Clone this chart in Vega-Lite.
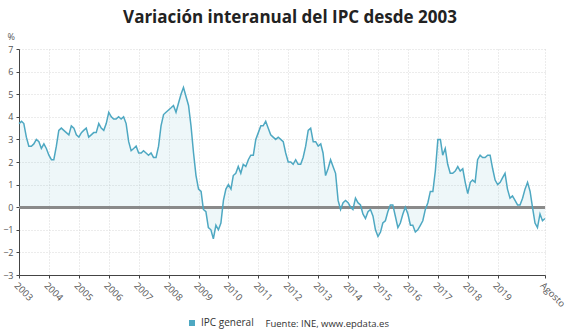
{
  "$schema": "https://vega.github.io/schema/vega-lite/v6.json",
  "width": 526,
  "height": 226,
  "autosize": {"type": "none"},
  "padding": {"left": 19, "top": 49, "right": 24, "bottom": 58},
  "background": "white",
  "config": {
    "font": "Open Sans",
    "view": {"stroke": null}
  },
  "title": {
    "text": "Variación interanual del IPC desde 2003",
    "fontSize": 17,
    "fontWeight": "bold",
    "color": "#222",
    "anchor": "middle",
    "offset": 5,
    "dx": 8
  },
  "data": {
    "values": [
      {"date": "2003-01-01", "v": 3.7}, {"date": "2003-02-01", "v": 3.8}, {"date": "2003-03-01", "v": 3.7}, {"date": "2003-04-01", "v": 3.1}, {"date": "2003-05-01", "v": 2.7}, {"date": "2003-06-01", "v": 2.7}, {"date": "2003-07-01", "v": 2.8}, {"date": "2003-08-01", "v": 3.0}, {"date": "2003-09-01", "v": 2.9}, {"date": "2003-10-01", "v": 2.6}, {"date": "2003-11-01", "v": 2.8}, {"date": "2003-12-01", "v": 2.6},
      {"date": "2004-01-01", "v": 2.3}, {"date": "2004-02-01", "v": 2.1}, {"date": "2004-03-01", "v": 2.1}, {"date": "2004-04-01", "v": 2.7}, {"date": "2004-05-01", "v": 3.4}, {"date": "2004-06-01", "v": 3.5}, {"date": "2004-07-01", "v": 3.4}, {"date": "2004-08-01", "v": 3.3}, {"date": "2004-09-01", "v": 3.2}, {"date": "2004-10-01", "v": 3.6}, {"date": "2004-11-01", "v": 3.5}, {"date": "2004-12-01", "v": 3.2},
      {"date": "2005-01-01", "v": 3.1}, {"date": "2005-02-01", "v": 3.3}, {"date": "2005-03-01", "v": 3.4}, {"date": "2005-04-01", "v": 3.5}, {"date": "2005-05-01", "v": 3.1}, {"date": "2005-06-01", "v": 3.2}, {"date": "2005-07-01", "v": 3.3}, {"date": "2005-08-01", "v": 3.3}, {"date": "2005-09-01", "v": 3.7}, {"date": "2005-10-01", "v": 3.5}, {"date": "2005-11-01", "v": 3.4}, {"date": "2005-12-01", "v": 3.7},
      {"date": "2006-01-01", "v": 4.2}, {"date": "2006-02-01", "v": 4.0}, {"date": "2006-03-01", "v": 3.9}, {"date": "2006-04-01", "v": 3.9}, {"date": "2006-05-01", "v": 4.0}, {"date": "2006-06-01", "v": 3.9}, {"date": "2006-07-01", "v": 4.0}, {"date": "2006-08-01", "v": 3.7}, {"date": "2006-09-01", "v": 2.9}, {"date": "2006-10-01", "v": 2.5}, {"date": "2006-11-01", "v": 2.6}, {"date": "2006-12-01", "v": 2.7},
      {"date": "2007-01-01", "v": 2.4}, {"date": "2007-02-01", "v": 2.4}, {"date": "2007-03-01", "v": 2.5}, {"date": "2007-04-01", "v": 2.4}, {"date": "2007-05-01", "v": 2.3}, {"date": "2007-06-01", "v": 2.4}, {"date": "2007-07-01", "v": 2.2}, {"date": "2007-08-01", "v": 2.2}, {"date": "2007-09-01", "v": 2.7}, {"date": "2007-10-01", "v": 3.6}, {"date": "2007-11-01", "v": 4.1}, {"date": "2007-12-01", "v": 4.2},
      {"date": "2008-01-01", "v": 4.3}, {"date": "2008-02-01", "v": 4.4}, {"date": "2008-03-01", "v": 4.5}, {"date": "2008-04-01", "v": 4.2}, {"date": "2008-05-01", "v": 4.6}, {"date": "2008-06-01", "v": 5.0}, {"date": "2008-07-01", "v": 5.3}, {"date": "2008-08-01", "v": 4.9}, {"date": "2008-09-01", "v": 4.5}, {"date": "2008-10-01", "v": 3.6}, {"date": "2008-11-01", "v": 2.4}, {"date": "2008-12-01", "v": 1.4},
      {"date": "2009-01-01", "v": 0.8}, {"date": "2009-02-01", "v": 0.7}, {"date": "2009-03-01", "v": -0.1}, {"date": "2009-04-01", "v": -0.2}, {"date": "2009-05-01", "v": -0.9}, {"date": "2009-06-01", "v": -1.0}, {"date": "2009-07-01", "v": -1.4}, {"date": "2009-08-01", "v": -0.8}, {"date": "2009-09-01", "v": -1.0}, {"date": "2009-10-01", "v": -0.7}, {"date": "2009-11-01", "v": 0.3}, {"date": "2009-12-01", "v": 0.8},
      {"date": "2010-01-01", "v": 1.0}, {"date": "2010-02-01", "v": 0.8}, {"date": "2010-03-01", "v": 1.4}, {"date": "2010-04-01", "v": 1.5}, {"date": "2010-05-01", "v": 1.8}, {"date": "2010-06-01", "v": 1.5}, {"date": "2010-07-01", "v": 1.9}, {"date": "2010-08-01", "v": 1.8}, {"date": "2010-09-01", "v": 2.1}, {"date": "2010-10-01", "v": 2.3}, {"date": "2010-11-01", "v": 2.3}, {"date": "2010-12-01", "v": 3.0},
      {"date": "2011-01-01", "v": 3.3}, {"date": "2011-02-01", "v": 3.6}, {"date": "2011-03-01", "v": 3.6}, {"date": "2011-04-01", "v": 3.8}, {"date": "2011-05-01", "v": 3.5}, {"date": "2011-06-01", "v": 3.2}, {"date": "2011-07-01", "v": 3.1}, {"date": "2011-08-01", "v": 3.0}, {"date": "2011-09-01", "v": 3.1}, {"date": "2011-10-01", "v": 3.0}, {"date": "2011-11-01", "v": 2.9}, {"date": "2011-12-01", "v": 2.4},
      {"date": "2012-01-01", "v": 2.0}, {"date": "2012-02-01", "v": 2.0}, {"date": "2012-03-01", "v": 1.9}, {"date": "2012-04-01", "v": 2.1}, {"date": "2012-05-01", "v": 1.9}, {"date": "2012-06-01", "v": 1.9}, {"date": "2012-07-01", "v": 2.2}, {"date": "2012-08-01", "v": 2.7}, {"date": "2012-09-01", "v": 3.4}, {"date": "2012-10-01", "v": 3.5}, {"date": "2012-11-01", "v": 2.9}, {"date": "2012-12-01", "v": 2.9},
      {"date": "2013-01-01", "v": 2.7}, {"date": "2013-02-01", "v": 2.8}, {"date": "2013-03-01", "v": 2.4}, {"date": "2013-04-01", "v": 1.4}, {"date": "2013-05-01", "v": 1.7}, {"date": "2013-06-01", "v": 2.1}, {"date": "2013-07-01", "v": 1.8}, {"date": "2013-08-01", "v": 1.5}, {"date": "2013-09-01", "v": 0.3}, {"date": "2013-10-01", "v": -0.1}, {"date": "2013-11-01", "v": 0.2}, {"date": "2013-12-01", "v": 0.3},
      {"date": "2014-01-01", "v": 0.2}, {"date": "2014-02-01", "v": 0.0}, {"date": "2014-03-01", "v": -0.1}, {"date": "2014-04-01", "v": 0.4}, {"date": "2014-05-01", "v": 0.2}, {"date": "2014-06-01", "v": 0.1}, {"date": "2014-07-01", "v": -0.3}, {"date": "2014-08-01", "v": -0.5}, {"date": "2014-09-01", "v": -0.2}, {"date": "2014-10-01", "v": -0.1}, {"date": "2014-11-01", "v": -0.4}, {"date": "2014-12-01", "v": -1.0},
      {"date": "2015-01-01", "v": -1.3}, {"date": "2015-02-01", "v": -1.1}, {"date": "2015-03-01", "v": -0.7}, {"date": "2015-04-01", "v": -0.6}, {"date": "2015-05-01", "v": -0.2}, {"date": "2015-06-01", "v": 0.1}, {"date": "2015-07-01", "v": 0.1}, {"date": "2015-08-01", "v": -0.4}, {"date": "2015-09-01", "v": -0.9}, {"date": "2015-10-01", "v": -0.7}, {"date": "2015-11-01", "v": -0.3}, {"date": "2015-12-01", "v": 0.0},
      {"date": "2016-01-01", "v": -0.3}, {"date": "2016-02-01", "v": -0.8}, {"date": "2016-03-01", "v": -0.8}, {"date": "2016-04-01", "v": -1.1}, {"date": "2016-05-01", "v": -1.0}, {"date": "2016-06-01", "v": -0.8}, {"date": "2016-07-01", "v": -0.6}, {"date": "2016-08-01", "v": -0.1}, {"date": "2016-09-01", "v": 0.2}, {"date": "2016-10-01", "v": 0.7}, {"date": "2016-11-01", "v": 0.7}, {"date": "2016-12-01", "v": 1.6},
      {"date": "2017-01-01", "v": 3.0}, {"date": "2017-02-01", "v": 3.0}, {"date": "2017-03-01", "v": 2.3}, {"date": "2017-04-01", "v": 2.6}, {"date": "2017-05-01", "v": 1.9}, {"date": "2017-06-01", "v": 1.5}, {"date": "2017-07-01", "v": 1.5}, {"date": "2017-08-01", "v": 1.6}, {"date": "2017-09-01", "v": 1.8}, {"date": "2017-10-01", "v": 1.6}, {"date": "2017-11-01", "v": 1.7}, {"date": "2017-12-01", "v": 1.1},
      {"date": "2018-01-01", "v": 0.6}, {"date": "2018-02-01", "v": 1.1}, {"date": "2018-03-01", "v": 1.2}, {"date": "2018-04-01", "v": 1.1}, {"date": "2018-05-01", "v": 2.1}, {"date": "2018-06-01", "v": 2.3}, {"date": "2018-07-01", "v": 2.2}, {"date": "2018-08-01", "v": 2.2}, {"date": "2018-09-01", "v": 2.3}, {"date": "2018-10-01", "v": 2.3}, {"date": "2018-11-01", "v": 1.7}, {"date": "2018-12-01", "v": 1.2},
      {"date": "2019-01-01", "v": 1.0}, {"date": "2019-02-01", "v": 1.1}, {"date": "2019-03-01", "v": 1.3}, {"date": "2019-04-01", "v": 1.5}, {"date": "2019-05-01", "v": 0.8}, {"date": "2019-06-01", "v": 0.4}, {"date": "2019-07-01", "v": 0.5}, {"date": "2019-08-01", "v": 0.3}, {"date": "2019-09-01", "v": 0.1}, {"date": "2019-10-01", "v": 0.1}, {"date": "2019-11-01", "v": 0.4}, {"date": "2019-12-01", "v": 0.8},
      {"date": "2020-01-01", "v": 1.1}, {"date": "2020-02-01", "v": 0.7}, {"date": "2020-03-01", "v": 0.0}, {"date": "2020-04-01", "v": -0.7}, {"date": "2020-05-01", "v": -0.9}, {"date": "2020-06-01", "v": -0.3}, {"date": "2020-07-01", "v": -0.6}, {"date": "2020-08-01", "v": -0.5}
    ]
  },
  "encoding": {
    "x": {
      "field": "date",
      "type": "temporal",
      "scale": {"type": "utc", "domain": [{"year": 2003, "month": 1, "date": 1, "utc": true}, {"year": 2020, "month": 8, "date": 1, "utc": true}]},
      "axis": {
        "values": [
          {"year": 2003, "month": 1, "date": 1, "utc": true}, {"year": 2004, "month": 1, "date": 1, "utc": true}, {"year": 2005, "month": 1, "date": 1, "utc": true}, {"year": 2006, "month": 1, "date": 1, "utc": true}, {"year": 2007, "month": 1, "date": 1, "utc": true}, {"year": 2008, "month": 1, "date": 1, "utc": true}, {"year": 2009, "month": 1, "date": 1, "utc": true}, {"year": 2010, "month": 1, "date": 1, "utc": true}, {"year": 2011, "month": 1, "date": 1, "utc": true}, {"year": 2012, "month": 1, "date": 1, "utc": true}, {"year": 2013, "month": 1, "date": 1, "utc": true}, {"year": 2014, "month": 1, "date": 1, "utc": true}, {"year": 2015, "month": 1, "date": 1, "utc": true}, {"year": 2016, "month": 1, "date": 1, "utc": true}, {"year": 2017, "month": 1, "date": 1, "utc": true}, {"year": 2018, "month": 1, "date": 1, "utc": true}, {"year": 2019, "month": 1, "date": 1, "utc": true}, {"year": 2020, "month": 8, "date": 1, "utc": true}
        ],
        "labelExpr": "utcmonth(datum.value) == 7 ? 'Agosto' : utcFormat(datum.value, '%Y')",
        "labelAngle": 45,
        "labelAlign": "left",
        "labelBaseline": "top",
        "labelFontSize": 9.5,
        "labelColor": "#555",
        "labelPadding": 2,
        "labelOverlap": false,
        "labelBound": false,
        "labelFlush": false,
        "tickSize": 3,
        "tickColor": "#444",
        "domainColor": "#444",
        "grid": true,
        "gridColor": "#d8d8d8",
        "gridDash": [1, 2],
        "title": "Fuente: INE, www.epdata.es",
        "titleFontSize": 9.5,
        "titleFontWeight": "normal",
        "titleColor": "#333",
        "titleAlign": "left",
        "titleBaseline": "middle",
        "titleX": 246,
        "titleY": 48
      }
    },
    "y": {
      "field": "v",
      "type": "quantitative",
      "scale": {"domain": [-3, 7], "nice": false},
      "axis": {
        "values": [-3, -2, -1, 0, 1, 2, 3, 4, 5, 6, 7],
        "labelFontSize": 9,
        "labelColor": "#555",
        "labelPadding": 3,
        "tickSize": 3,
        "tickColor": "#444",
        "domainColor": "#444",
        "grid": true,
        "gridColor": "#d8d8d8",
        "gridDash": [1, 2],
        "title": "%",
        "titleAngle": 0,
        "titleFontSize": 9,
        "titleFontWeight": "normal",
        "titleColor": "#555",
        "titleAlign": "left",
        "titleBaseline": "middle",
        "titleX": -12,
        "titleY": -13
      }
    }
  },
  "layer": [
    {
      "mark": {"type": "area", "color": "#5aafc6", "opacity": 0.1}
    },
    {
      "mark": {"type": "rule", "color": "#8a8a8a", "strokeWidth": 2.5},
      "encoding": {"y": {"datum": 0}, "x": null}
    },
    {
      "mark": {"type": "line", "strokeWidth": 1.5},
      "encoding": {
        "color": {
          "datum": "IPC general",
          "type": "nominal",
          "scale": {"range": ["#4ea8c2"]},
          "legend": {
            "orient": "none",
            "legendX": 168,
            "legendY": 269,
            "title": null,
            "symbolType": "square",
            "symbolSize": 36,
            "symbolFillColor": "#4ea8c2",
            "symbolStrokeColor": "#4ea8c2",
            "symbolStrokeWidth": 0,
            "labelFontSize": 10,
            "labelColor": "#333"
          }
        }
      }
    }
  ]
}
